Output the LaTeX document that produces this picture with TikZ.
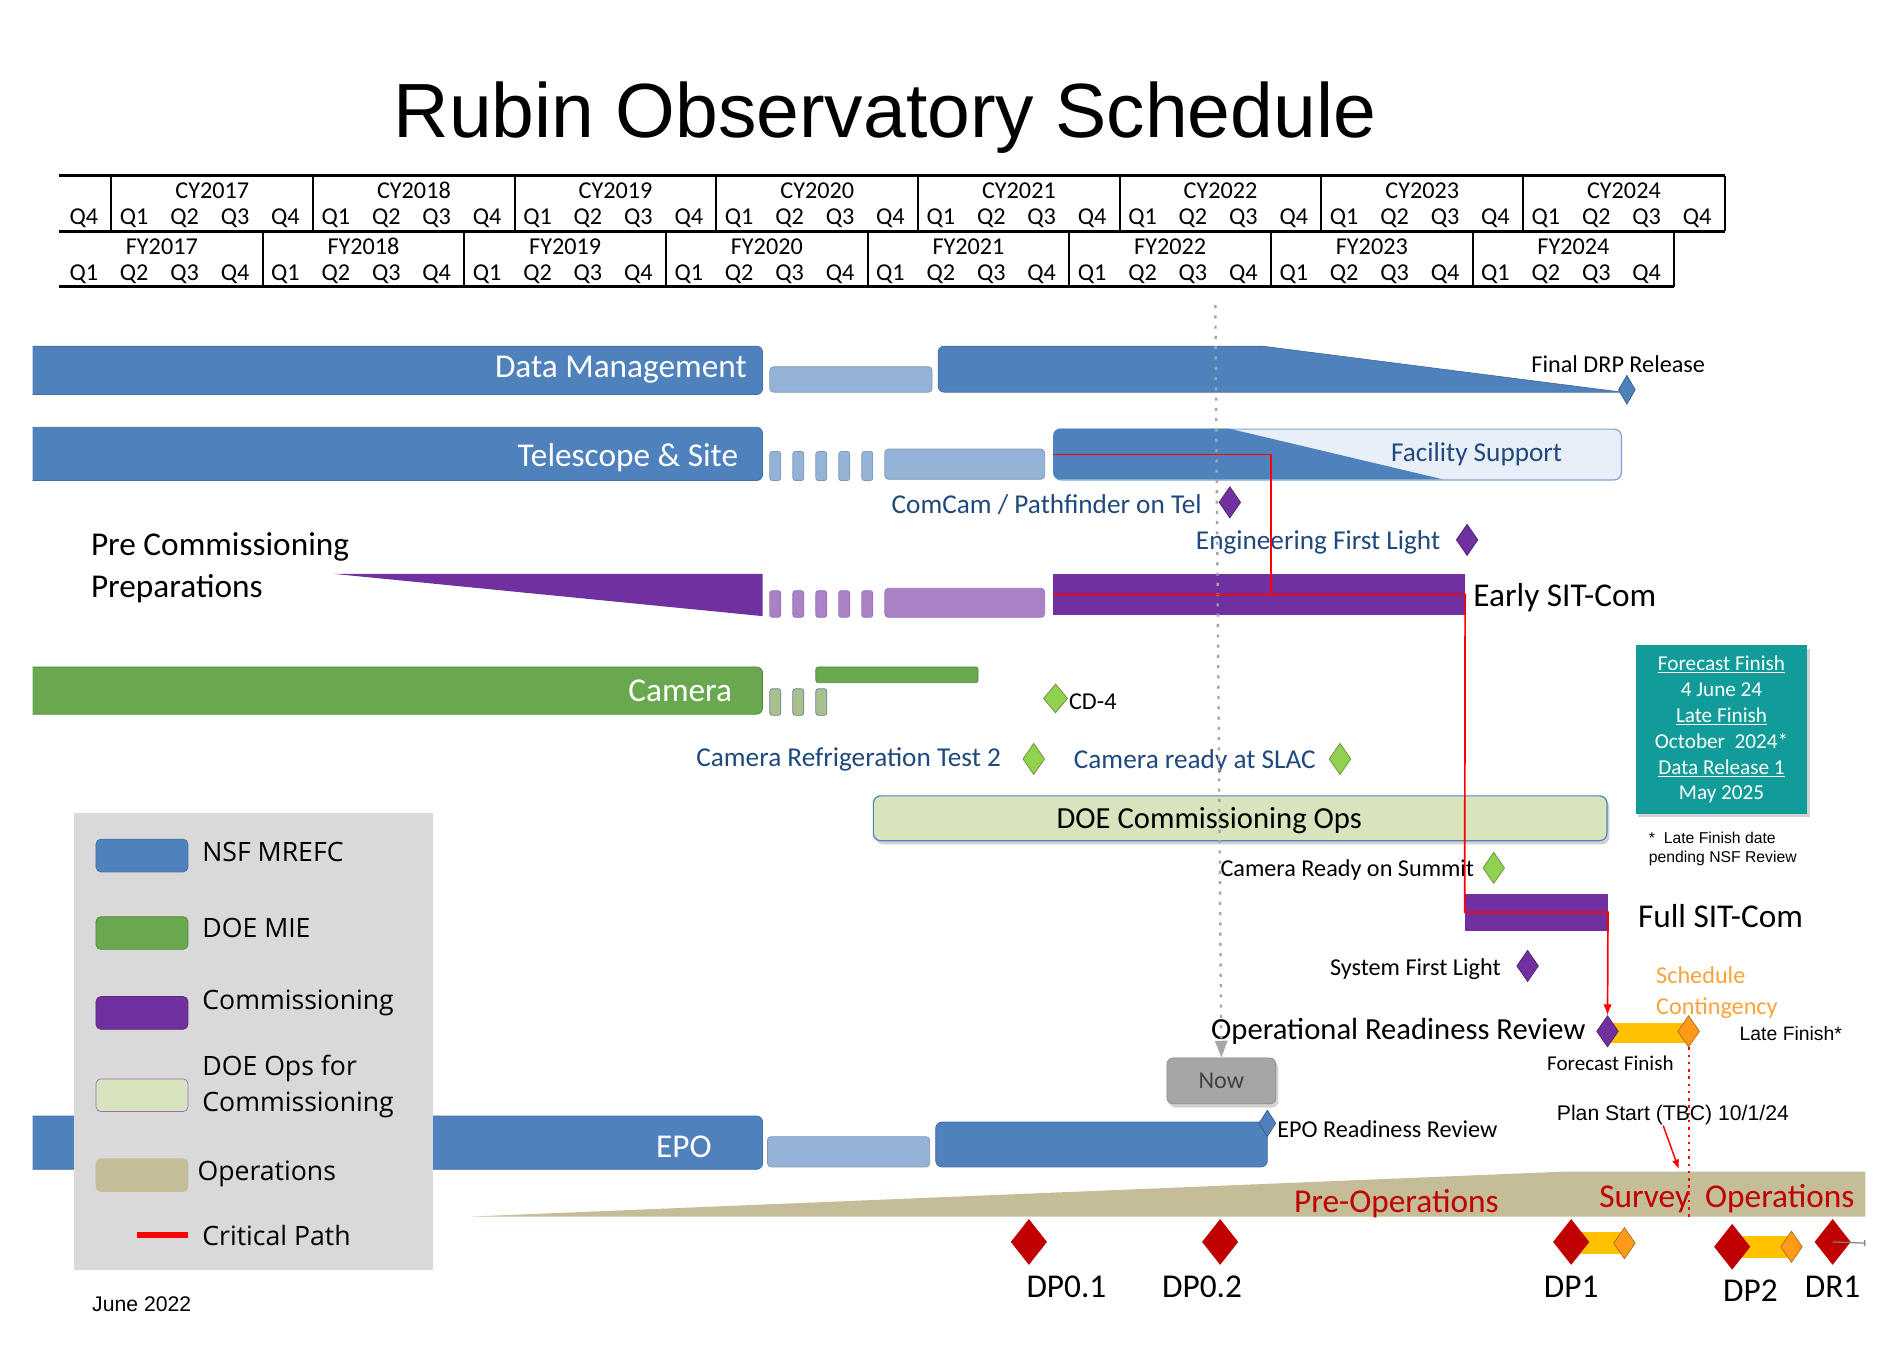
\documentclass[tikz,border=0pt]{standalone}
\usepackage{fontspec}
\setmainfont{Carlito}
\newfontfamily\arialf{Liberation Sans}
\newfontfamily\legf{Open Sans}
\usetikzlibrary{arrows.meta,positioning,shapes.geometric,shadows}
\definecolor{rblue}{HTML}{4F81BD}
\definecolor{rlight}{HTML}{95B3D7}
\definecolor{rnavy}{HTML}{1F497D}
\definecolor{rpurple}{HTML}{7030A0}
\definecolor{rlilac}{HTML}{A982C6}
\definecolor{rgreen}{HTML}{6AA84F}
\definecolor{rolive}{HTML}{A9BF8C}
\definecolor{rlime}{HTML}{92D050}
\definecolor{rpale}{HTML}{D7E4BD}
\definecolor{rteal}{HTML}{119C9A}
\definecolor{rtan}{HTML}{C4BD97}
\definecolor{rdred}{HTML}{C00000}
\definecolor{ramber}{HTML}{FFC000}
\definecolor{rorange}{HTML}{FF9A1A}
\definecolor{rcont}{HTML}{F9A33A}
\definecolor{rfac}{HTML}{E9EFF8}
\definecolor{rgrey}{HTML}{A6A6A6}
\definecolor{rlegend}{HTML}{D9D9D9}
\begin{document}
\begin{tikzpicture}[
  x=1pt, y=-1pt,
  hd/.style={font=\fontsize{20}{22}\selectfont, inner sep=0pt, yshift=-1.5pt},
  bar/.style={fill=rblue, draw=rblue!85!black, line width=0.6pt, rounded corners=5pt},
  lite/.style={fill=rlight, draw=rlight!85!black, line width=0.6pt, rounded corners=3pt},
  lilb/.style={fill=rlilac, draw=rpurple!70, line width=0.6pt, rounded corners=3pt},
  gbar/.style={fill=rgreen, draw=rgreen!80!black, line width=0.6pt, rounded corners=5pt},
  olb/.style={fill=rolive, draw=rblue!60!gray, line width=0.6pt, rounded corners=2pt},
  big/.style={font=\fontsize{27.5}{34}\selectfont, inner sep=0pt, yshift=-2pt},
  wt/.style={big, text=white},
  nv/.style={font=\fontsize{22.5}{26}\selectfont, text=rnavy, inner sep=0pt, yshift=-2pt},
  lbl/.style={font=\fontsize{20}{24}\selectfont, inner sep=0pt, yshift=-2pt},
  ms/.style={diamond, inner sep=0pt, minimum width=18pt, minimum height=26pt, fill=#1, draw=#1!65!black, line width=0.5pt},
  dpm/.style={diamond, inner sep=0pt, minimum width=30pt, minimum height=38pt, fill=rdred},
  crit/.style={draw=red, line width=1.4pt},
  lgbox/.style={minimum width=76pt, minimum height=27pt, rounded corners=4pt, inner sep=0pt, anchor=north west, line width=0.6pt},
  lg/.style={font=\legf\fontsize{22}{30}\selectfont, inner sep=0pt, align=left, anchor=west, yshift=-1.5pt},
  shd/.style={drop shadow={shadow xshift=2pt, shadow yshift=-3pt, opacity=0.35}}
]
\useasboundingbox (0,0) rectangle (1568,1115);
\fill[white] (0,0) rectangle (1568,1115);
\node[font=\arialf\fontsize{63.5}{70}\selectfont, inner sep=0pt] (title) at (731,97) {Rubin Observatory Schedule};
\draw[line width=2.5pt] (49,145) -- (1425,145) (49,191) -- (1425,191) (49,237) -- (1383,237);
\foreach \j in {0,...,8} \draw[line width=1.6pt] ({50.4+(1+4*\j)*41.65},145) -- ++(0,46);
\foreach \j in {1,...,8} \draw[line width=1.6pt] ({50.4+4*\j*41.65},191) -- ++(0,46);
\foreach \k [evaluate=\k as \q using {int(mod(\k+3,4)+1)}] in {0,...,32}
  \node[hd] (cq\k) at ({50.4+(\k+0.5)*41.65-2},179) {Q\q};
\foreach \k [evaluate=\k as \q using {int(mod(\k,4)+1)}] in {0,...,31}
  \node[hd] (fq\k) at ({50.4+(\k+0.5)*41.65-2},225) {Q\q};
\foreach \j [evaluate=\j as \yr using {int(2017+\j)}] in {0,...,7} {
  \node[hd] (cy\j) at ({50.4+(3+4*\j)*41.65},156) {CY\yr};
  \node[hd] (fy\j) at ({50.4+(2+4*\j)*41.65},202) {FY\yr};
}
\begin{scope}
\clip (27,0) rectangle (1568,1115);
\path[bar] (10,286) rectangle (630,326);
\path[bar] (10,353) rectangle (630,397);
\path[gbar] (10,551) rectangle (630,590);
\path[bar] (10,922) rectangle (630,966);
\end{scope}
\node[wt, anchor=east] (dml) at (617,303) {Data Management};
\path[lite] (636,303) rectangle (770,324);
\path[bar, sharp corners] (900,324) [rounded corners=5pt] -- (775,324) -- (775,286) [sharp corners] -- (1043,286) -- (1340,324) -- cycle;
\node[ms=rblue, minimum width=14pt, minimum height=24pt] (drp) at (1344,322) {};
\node[lbl, anchor=west] (drpl) at (1265,299) {Final DRP Release};
\node[wt, anchor=east] (tsl) at (610,376) {Telescope \& Site};
\foreach \x in {636,655,674,693,712} \path[lite, rounded corners=2pt] (\x,373) rectangle ++(9,24);
\path[lite] (731,371) rectangle (863,396);
\node[draw=rlight!70!rblue, fill=rfac, rounded corners=6pt, line width=1pt, minimum width=469pt, minimum height=42pt, inner sep=0pt, anchor=north west] (ts2) at (870,354) {};
\begin{scope}
\clip[rounded corners=6pt] (870,354) rectangle (1339,396);
\fill[rblue] (870,354) -- (1015,354) -- (1192,396) -- (870,396) -- cycle;
\end{scope}
\node[nv, anchor=west] (facl) at (1149,373) {Facility Support};
\node[nv, anchor=east] (ccl) at (993,415) {ComCam / Pathfinder on Tel};
\node[ms=rpurple] (cc) at (1016,415) {};
\node[nv, anchor=east] (efll) at (1190,446) {Engineering First Light};
\node[ms=rpurple] (efl) at (1212,446) {};
\node[big, anchor=west, align=left] (pcp) at (75,467) {Pre Commissioning\\Preparations};
\fill[rpurple] (275,474) -- (630,474) -- (630,509) -- cycle;
\foreach \x in {636,655,674,693,712} \path[lilb, rounded corners=2pt] (\x,488) rectangle ++(9,22);
\path[lilb] (731,486) rectangle (863,510);
\node[fill=rpurple, minimum width=340pt, minimum height=34pt, inner sep=0pt, anchor=north west] (esc) at (870,474) {};
\node[big, anchor=west] (escl) at (1217,492) {Early SIT-Com};
\node[wt, anchor=east] (caml) at (605,569) {Camera};
\foreach \x in {636,655,674} \path[olb] (\x,569) rectangle ++(9,22);
\path[gbar, rounded corners=2pt] (674,551) rectangle (808,564);
\node[ms=rlime, minimum width=20pt, minimum height=24pt] (cd4) at (872,577) {};
\node[lbl, anchor=west] (cd4l) at (883,578) {CD-4};
\node[nv, anchor=east] (crtl) at (827,625) {Camera Refrigeration Test 2};
\node[ms=rlime] (crt) at (854,627) {};
\node[nv, anchor=west] (slacl) at (887,627) {Camera ready at SLAC};
\node[ms=rlime] (slac) at (1107,627) {};
\node[fill=rpale, draw=rblue, line width=1pt, rounded corners=6pt, minimum width=606pt, minimum height=37pt, inner sep=0pt, anchor=north west, shd] (doe) at (721,657) {};
\node[font=\fontsize{25.3}{30}\selectfont, inner sep=0pt, yshift=-2pt] (doel) at (999,676) {DOE Commissioning Ops};
\node[fill=rteal, text=white, align=center, minimum width=142pt, minimum height=139pt, inner sep=0pt, anchor=north west, font=\fontsize{17.5}{21.4}\selectfont, shd] (ffb) at (1351,533) {\underline{Forecast Finish}\\4 June 24\\\underline{Late Finish}\\October~ 2024*\\\underline{Data Release 1}\\May 2025};
\node[font=\arialf\fontsize{13}{16}\selectfont, align=left, anchor=west, inner sep=0pt, yshift=-1.5pt] (lfn) at (1362,700) {*~ Late Finish date\\pending NSF Review};
\node[lbl, anchor=east] (crsl) at (1218,717) {Camera Ready on Summit};
\node[ms=rlime] (crs) at (1234,717) {};
\node[fill=rpurple, minimum width=118pt, minimum height=31pt, inner sep=0pt, anchor=north west] (fsc) at (1210,738) {};
\node[big, anchor=west] (fscl) at (1353,755) {Full SIT-Com};
\node[lbl, anchor=east] (sfll) at (1240,799) {System First Light};
\node[ms=rpurple] (sfl) at (1262,798) {};
\node[font=\fontsize{20}{25}\selectfont, text=rcont, inner sep=0pt, align=left, anchor=west, yshift=-2pt] (scl) at (1368,818) {Schedule\\Contingency};
\node[font=\fontsize{25.3}{30}\selectfont, inner sep=0pt, anchor=east, yshift=-2pt] (orrl) at (1310,850) {Operational Readiness Review};
\fill[ramber] (1328,845) rectangle (1395,862);
\node[ms=rpurple] (orr) at (1328,852) {};
\node[ms=rorange] (lf) at (1395,852) {};
\node[font=\arialf\fontsize{16}{19}\selectfont, inner sep=0pt, anchor=west, yshift=-1.5pt] (lfl) at (1437,852) {Late Finish*};
\node[font=\fontsize{17.4}{20}\selectfont, inner sep=0pt, anchor=west, yshift=-1.5pt] (ffl) at (1278,877) {Forecast Finish};
\node[font=\arialf\fontsize{17.5}{20}\selectfont, inner sep=0pt, anchor=west, yshift=-1.5pt] (ps) at (1286,920) {Plan Start (TBC) 10/1/24};
\node[wt] (epol) at (565,945) {EPO};
\path[lite] (634,939) rectangle (768,964);
\path[bar] (773,927) rectangle (1047,964);
\node[ms=rblue, minimum width=14pt, minimum height=22pt] (epr) at (1047,928) {};
\node[lbl, anchor=west] (eprl) at (1055,931) {EPO Readiness Review};
\node[fill=rgrey, draw=gray, text=black!75, rounded corners=5pt, minimum width=90pt, minimum height=38pt, inner sep=0pt, font=\fontsize{20}{24}\selectfont, shd] (now) at (1009,893) {Now};
\fill[rtan] (390,1005) -- (1290,968) -- (1541,968) -- (1541,1005) -- cycle;
\node[big, text=rdred, anchor=west] (preop) at (1069,992) {Pre-Operations};
\node[big, text=rdred, anchor=west] (surv) at (1321,988) {Survey~ Operations};
\fill[ramber] (1298,1018) rectangle (1342,1036);
\fill[ramber] (1431,1021) rectangle (1480,1039);
\node[ms=rorange] (dp1b) at (1342,1027) {};
\node[ms=rorange] (dp2b) at (1480,1030) {};
\node[dpm] (dp01) at (850,1026) {};
\node[dpm] (dp02) at (1008,1026) {};
\node[dpm] (dp1) at (1298,1026) {};
\node[dpm] (dp2) at (1431,1030) {};
\node[dpm] (dr1) at (1514,1026) {};
\coordinate (dre) at (1541,1027);
\draw[gray, line width=1pt, -{Bar[width=5pt]}] (dr1.center) -- (dre);
\node[big] (dp01l) at (881,1061) {DP0.1};
\node[big] (dp02l) at (993,1061) {DP0.2};
\node[big] (dp1l) at (1298,1061) {DP1};
\node[big] (dp2l) at (1446,1064) {DP2};
\node[big] (dr1l) at (1514,1061) {DR1};
\fill[rlegend] (61,672) rectangle (358,1049);
\node[lgbox, fill=rblue, draw=rblue!85!black] (lg1) at (79,693) {};
\node[lg] (lg1t) at (167,702) {NSF MREFC};
\node[lgbox, fill=rgreen, draw=rgreen!80!black] (lg2) at (79,757) {};
\node[lg] (lg2t) at (167,765) {DOE MIE};
\node[lgbox, fill=rpurple, draw=rpurple!80!black] (lg3) at (79,823) {};
\node[lg] (lg3t) at (167,827) {Commissioning};
\node[lgbox, fill=rpale, draw=rpurple!70] (lg4) at (79,891) {};
\node[lg] (lg4t) at (167,896) {DOE Ops for\\Commissioning};
\node[lgbox, fill=rtan, draw=rtan] (lg5) at (79,957) {};
\node[lg] (lg5t) at (163,968) {Operations};
\node[fill=red, minimum width=42pt, minimum height=5pt, inner sep=0pt, anchor=west] (lg6) at (113,1020) {};
\node[lg] (lg6t) at (167,1019) {Critical Path};
\node[font=\arialf\fontsize{17.5}{20}\selectfont, inner sep=0pt, anchor=west, yshift=-1.5pt] (date) at (76,1076) {June 2022};
\coordinate (nt) at (1004,252);
\draw[gray!70, line width=2pt, dash pattern=on 2.5pt off 6pt, -{Triangle[width=10pt,length=14pt]}] (nt) -- (now.north);
\draw[crit] (ts2.west) -| ([xshift=180pt]esc.west);
\draw[crit, -{Latex[length=9pt,width=7pt]}] (esc.west) -- (esc.east) -- (fsc.west) -- (fsc.east) -- (orr.north);
\coordinate (lfb) at (1395,1005);
\draw[red, line width=1.5pt, dash pattern=on 2pt off 4pt] (lf.south) -- (lfb);
\coordinate (pst) at (1387,966);
\draw[red, line width=1.2pt, -{Latex[length=8pt]}] ([xshift=-8pt]ps.south) -- (pst);
\end{tikzpicture}
\end{document}
